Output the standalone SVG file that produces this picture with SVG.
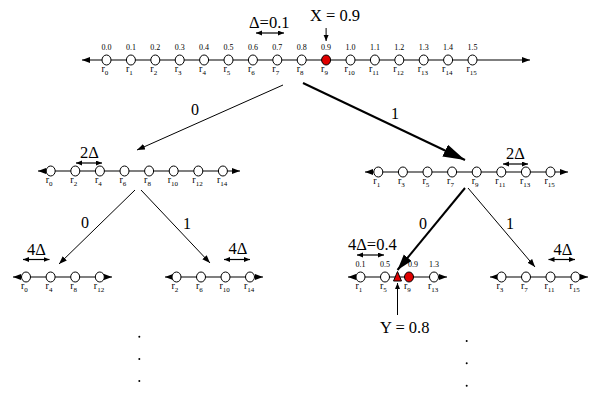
<svg xmlns="http://www.w3.org/2000/svg" width="590" height="393" viewBox="0 0 590 393">
<defs>
<marker id="ah" markerUnits="userSpaceOnUse" markerWidth="10" markerHeight="8" refX="8" refY="3" orient="auto-start-reverse"><path d="M0,0 L8,3 L0,6 Z" fill="#000"/></marker>
<marker id="ahs" markerUnits="userSpaceOnUse" markerWidth="8" markerHeight="6" refX="6" refY="2.5" orient="auto-start-reverse"><path d="M0,0 L6,2.5 L0,5 Z" fill="#000"/></marker>
<marker id="big" markerUnits="userSpaceOnUse" markerWidth="24" markerHeight="14" refX="22" refY="6.5" orient="auto"><path d="M0,0 L22,6.5 L0,13 Z" fill="#000"/></marker>
<marker id="mid" markerUnits="userSpaceOnUse" markerWidth="18" markerHeight="12" refX="16" refY="5" orient="auto"><path d="M0,0 L16,5 L0,10 Z" fill="#000"/></marker>
</defs>
<style>
text{font-family:"Liberation Serif","Times New Roman",serif;fill:#000}
.axis{stroke:#000;stroke-width:1.2;fill:none;marker-start:url(#ah);marker-end:url(#ah)}
.dbl{stroke:#000;stroke-width:1.2;fill:none;marker-start:url(#ahs);marker-end:url(#ahs)}
.n{fill:#fff;stroke:#000;stroke-width:1}
.red{fill:#e00000;stroke:#000;stroke-width:1}
.v{font-size:8px;text-anchor:middle}
.r{font-size:10px}
.s{font-size:7px}
.big{font-size:16.5px}
.lab{font-size:16px;text-anchor:middle}
.thin{stroke:#000;stroke-width:1;fill:none;marker-end:url(#ah)}
.bold{stroke:#000;stroke-width:2;fill:none}
</style>

<g id="connectors">
<line class="thin" x1="283" y1="85" x2="137" y2="150"/>
<line class="bold" x1="303" y1="83" x2="465" y2="160" marker-end="url(#big)"/>
<line class="thin" x1="135" y1="190" x2="59" y2="264"/>
<line class="thin" x1="141" y1="190" x2="210" y2="263"/>
<line class="bold" x1="465" y1="188" x2="397.5" y2="270" marker-end="url(#mid)"/>
<line class="thin" x1="468" y1="188" x2="535" y2="267"/>
<text class="lab" x="195" y="115">0</text>
<text class="lab" x="395" y="119">1</text>
<text class="lab" x="85" y="228">0</text>
<text class="lab" x="187" y="229">1</text>
<text class="lab" x="423" y="229">0</text>
<text class="lab" x="510" y="229">1</text>
</g>

<g id="top">
<line class="axis" x1="82" y1="60" x2="530" y2="60"/>
<text class="big" x="249" y="28">Δ=0.1</text>
<line class="dbl" x1="256" y1="33" x2="284" y2="33"/>
<text class="big" x="310" y="21">X = 0.9</text>
<line x1="326.1" y1="28" x2="326.1" y2="41" stroke="#000" stroke-width="1" marker-end="url(#ahs)"/>
<ellipse class="n" cx="106.5" cy="60" rx="4.5" ry="5"/>
<ellipse class="n" cx="130.9" cy="60" rx="4.5" ry="5"/>
<ellipse class="n" cx="155.3" cy="60" rx="4.5" ry="5"/>
<ellipse class="n" cx="179.7" cy="60" rx="4.5" ry="5"/>
<ellipse class="n" cx="204.1" cy="60" rx="4.5" ry="5"/>
<ellipse class="n" cx="228.5" cy="60" rx="4.5" ry="5"/>
<ellipse class="n" cx="252.9" cy="60" rx="4.5" ry="5"/>
<ellipse class="n" cx="277.3" cy="60" rx="4.5" ry="5"/>
<ellipse class="n" cx="301.7" cy="60" rx="4.5" ry="5"/>
<ellipse class="red" cx="326.1" cy="60" rx="4.5" ry="5"/>
<ellipse class="n" cx="350.5" cy="60" rx="4.5" ry="5"/>
<ellipse class="n" cx="374.9" cy="60" rx="4.5" ry="5"/>
<ellipse class="n" cx="399.3" cy="60" rx="4.5" ry="5"/>
<ellipse class="n" cx="423.7" cy="60" rx="4.5" ry="5"/>
<ellipse class="n" cx="448.1" cy="60" rx="4.5" ry="5"/>
<ellipse class="n" cx="472.5" cy="60" rx="4.5" ry="5"/>
<text class="v" x="106.5" y="50">0.0</text>
<text class="v" x="130.9" y="50">0.1</text>
<text class="v" x="155.3" y="50">0.2</text>
<text class="v" x="179.7" y="50">0.3</text>
<text class="v" x="204.1" y="50">0.4</text>
<text class="v" x="228.5" y="50">0.5</text>
<text class="v" x="252.9" y="50">0.6</text>
<text class="v" x="277.3" y="50">0.7</text>
<text class="v" x="301.7" y="50">0.8</text>
<text class="v" x="326.1" y="50">0.9</text>
<text class="v" x="350.5" y="50">1.0</text>
<text class="v" x="374.9" y="50">1.1</text>
<text class="v" x="399.3" y="50">1.2</text>
<text class="v" x="423.7" y="50">1.3</text>
<text class="v" x="448.1" y="50">1.4</text>
<text class="v" x="472.5" y="50">1.5</text>
<text class="r" x="101.5" y="72">r<tspan class="s" dy="3">0</tspan></text>
<text class="r" x="125.9" y="72">r<tspan class="s" dy="3">1</tspan></text>
<text class="r" x="150.3" y="72">r<tspan class="s" dy="3">2</tspan></text>
<text class="r" x="174.7" y="72">r<tspan class="s" dy="3">3</tspan></text>
<text class="r" x="199.1" y="72">r<tspan class="s" dy="3">4</tspan></text>
<text class="r" x="223.5" y="72">r<tspan class="s" dy="3">5</tspan></text>
<text class="r" x="247.9" y="72">r<tspan class="s" dy="3">6</tspan></text>
<text class="r" x="272.3" y="72">r<tspan class="s" dy="3">7</tspan></text>
<text class="r" x="296.7" y="72">r<tspan class="s" dy="3">8</tspan></text>
<text class="r" x="321.1" y="72">r<tspan class="s" dy="3">9</tspan></text>
<text class="r" x="344.5" y="72">r<tspan class="s" dy="3">10</tspan></text>
<text class="r" x="368.9" y="72">r<tspan class="s" dy="3">11</tspan></text>
<text class="r" x="393.3" y="72">r<tspan class="s" dy="3">12</tspan></text>
<text class="r" x="417.7" y="72">r<tspan class="s" dy="3">13</tspan></text>
<text class="r" x="442.1" y="72">r<tspan class="s" dy="3">14</tspan></text>
<text class="r" x="466.5" y="72">r<tspan class="s" dy="3">15</tspan></text>
</g>

<g id="mid-left">
<line class="axis" x1="38" y1="171" x2="240" y2="171"/>
<text class="big" x="80" y="158">2Δ</text>
<line class="dbl" x1="76" y1="163" x2="102" y2="163"/>
<ellipse class="n" cx="50.7" cy="171" rx="4.5" ry="5"/>
<ellipse class="n" cx="75.3" cy="171" rx="4.5" ry="5"/>
<ellipse class="n" cx="99.9" cy="171" rx="4.5" ry="5"/>
<ellipse class="n" cx="124.5" cy="171" rx="4.5" ry="5"/>
<ellipse class="n" cx="149.1" cy="171" rx="4.5" ry="5"/>
<ellipse class="n" cx="173.7" cy="171" rx="4.5" ry="5"/>
<ellipse class="n" cx="198.3" cy="171" rx="4.5" ry="5"/>
<ellipse class="n" cx="222.9" cy="171" rx="4.5" ry="5"/>
<text class="r" x="45.7" y="183">r<tspan class="s" dy="3">0</tspan></text>
<text class="r" x="70.3" y="183">r<tspan class="s" dy="3">2</tspan></text>
<text class="r" x="94.9" y="183">r<tspan class="s" dy="3">4</tspan></text>
<text class="r" x="119.5" y="183">r<tspan class="s" dy="3">6</tspan></text>
<text class="r" x="144.1" y="183">r<tspan class="s" dy="3">8</tspan></text>
<text class="r" x="167.7" y="183">r<tspan class="s" dy="3">10</tspan></text>
<text class="r" x="192.3" y="183">r<tspan class="s" dy="3">12</tspan></text>
<text class="r" x="216.9" y="183">r<tspan class="s" dy="3">14</tspan></text>
</g>

<g id="mid-right">
<line class="axis" x1="365" y1="172" x2="568" y2="172"/>
<text class="big" x="506" y="159">2Δ</text>
<line class="dbl" x1="503" y1="164" x2="528" y2="164"/>
<ellipse class="n" cx="378.3" cy="172" rx="4.5" ry="5"/>
<ellipse class="n" cx="402.9" cy="172" rx="4.5" ry="5"/>
<ellipse class="n" cx="427.5" cy="172" rx="4.5" ry="5"/>
<ellipse class="n" cx="452.1" cy="172" rx="4.5" ry="5"/>
<ellipse class="n" cx="476.7" cy="172" rx="4.5" ry="5"/>
<ellipse class="n" cx="501.3" cy="172" rx="4.5" ry="5"/>
<ellipse class="n" cx="525.9" cy="172" rx="4.5" ry="5"/>
<ellipse class="n" cx="550.5" cy="172" rx="4.5" ry="5"/>
<text class="r" x="373.3" y="184">r<tspan class="s" dy="3">1</tspan></text>
<text class="r" x="397.9" y="184">r<tspan class="s" dy="3">3</tspan></text>
<text class="r" x="422.5" y="184">r<tspan class="s" dy="3">5</tspan></text>
<text class="r" x="447.1" y="184">r<tspan class="s" dy="3">7</tspan></text>
<text class="r" x="471.7" y="184">r<tspan class="s" dy="3">9</tspan></text>
<text class="r" x="495.3" y="184">r<tspan class="s" dy="3">11</tspan></text>
<text class="r" x="519.9" y="184">r<tspan class="s" dy="3">13</tspan></text>
<text class="r" x="544.5" y="184">r<tspan class="s" dy="3">15</tspan></text>
</g>

<g id="bot-1">
<line class="axis" x1="13" y1="277" x2="112" y2="277"/>
<text class="big" x="27" y="255">4Δ</text>
<line class="dbl" x1="23" y1="259.5" x2="49.5" y2="259.5"/>
<ellipse class="n" cx="26" cy="277" rx="4.5" ry="5"/>
<ellipse class="n" cx="50.6" cy="277" rx="4.5" ry="5"/>
<ellipse class="n" cx="75.2" cy="277" rx="4.5" ry="5"/>
<ellipse class="n" cx="99.8" cy="277" rx="4.5" ry="5"/>
<text class="r" x="21" y="289">r<tspan class="s" dy="3">0</tspan></text>
<text class="r" x="45.6" y="289">r<tspan class="s" dy="3">4</tspan></text>
<text class="r" x="70.2" y="289">r<tspan class="s" dy="3">8</tspan></text>
<text class="r" x="93.8" y="289">r<tspan class="s" dy="3">12</tspan></text>
</g>

<g id="bot-2">
<line class="axis" x1="165" y1="277" x2="263" y2="277"/>
<text class="big" x="228.5" y="254">4Δ</text>
<line class="dbl" x1="224" y1="259.5" x2="250" y2="259.5"/>
<ellipse class="n" cx="176.5" cy="277" rx="4.5" ry="5"/>
<ellipse class="n" cx="201" cy="277" rx="4.5" ry="5"/>
<ellipse class="n" cx="225.5" cy="277" rx="4.5" ry="5"/>
<ellipse class="n" cx="250" cy="277" rx="4.5" ry="5"/>
<text class="r" x="171.5" y="289">r<tspan class="s" dy="3">2</tspan></text>
<text class="r" x="196" y="289">r<tspan class="s" dy="3">6</tspan></text>
<text class="r" x="219.5" y="289">r<tspan class="s" dy="3">10</tspan></text>
<text class="r" x="244" y="289">r<tspan class="s" dy="3">14</tspan></text>
</g>

<g id="bot-3">
<line class="axis" x1="348" y1="277" x2="447" y2="277"/>
<text class="big" x="348" y="250">4Δ=0.4</text>
<line class="dbl" x1="357" y1="255" x2="384" y2="255"/>
<ellipse class="n" cx="360.5" cy="277" rx="4.5" ry="5"/>
<ellipse class="n" cx="385" cy="277" rx="4.5" ry="5"/>
<polygon class="red" points="397.5,271.5 393.5,281 401.5,281"/>
<ellipse class="red" cx="409" cy="277" rx="4.5" ry="5"/>
<ellipse class="n" cx="434" cy="277" rx="4.5" ry="5"/>
<text class="v" x="360.5" y="267">0.1</text>
<text class="v" x="385" y="267">0.5</text>
<text class="v" x="413" y="267">0.9</text>
<text class="v" x="434" y="267">1.3</text>
<text class="r" x="355.5" y="289">r<tspan class="s" dy="3">1</tspan></text>
<text class="r" x="380" y="289">r<tspan class="s" dy="3">5</tspan></text>
<text class="r" x="404" y="289">r<tspan class="s" dy="3">9</tspan></text>
<text class="r" x="428" y="289">r<tspan class="s" dy="3">13</tspan></text>
<line x1="397.5" y1="315" x2="397.5" y2="283" stroke="#000" stroke-width="1" marker-end="url(#ahs)"/>
<text class="big" x="380" y="333">Y = 0.8</text>
</g>

<g id="bot-4">
<line class="axis" x1="490" y1="277" x2="588" y2="277"/>
<text class="big" x="553.5" y="255">4Δ</text>
<line class="dbl" x1="548.5" y1="259.5" x2="575" y2="259.5"/>
<ellipse class="n" cx="501.5" cy="277" rx="4.5" ry="5"/>
<ellipse class="n" cx="526" cy="277" rx="4.5" ry="5"/>
<ellipse class="n" cx="550.5" cy="277" rx="4.5" ry="5"/>
<ellipse class="n" cx="575.5" cy="277" rx="4.5" ry="5"/>
<text class="r" x="496.5" y="289">r<tspan class="s" dy="3">3</tspan></text>
<text class="r" x="521" y="289">r<tspan class="s" dy="3">7</tspan></text>
<text class="r" x="544.5" y="289">r<tspan class="s" dy="3">11</tspan></text>
<text class="r" x="569.5" y="289">r<tspan class="s" dy="3">15</tspan></text>
</g>

<g id="dots" fill="#000">
<circle cx="139.3" cy="336.7" r="1"/>
<circle cx="139.3" cy="359" r="1"/>
<circle cx="139.3" cy="381" r="1"/>
<circle cx="466.7" cy="341" r="1"/>
<circle cx="466.7" cy="363.3" r="1"/>
<circle cx="466.7" cy="385.7" r="1"/>
</g>
</svg>
